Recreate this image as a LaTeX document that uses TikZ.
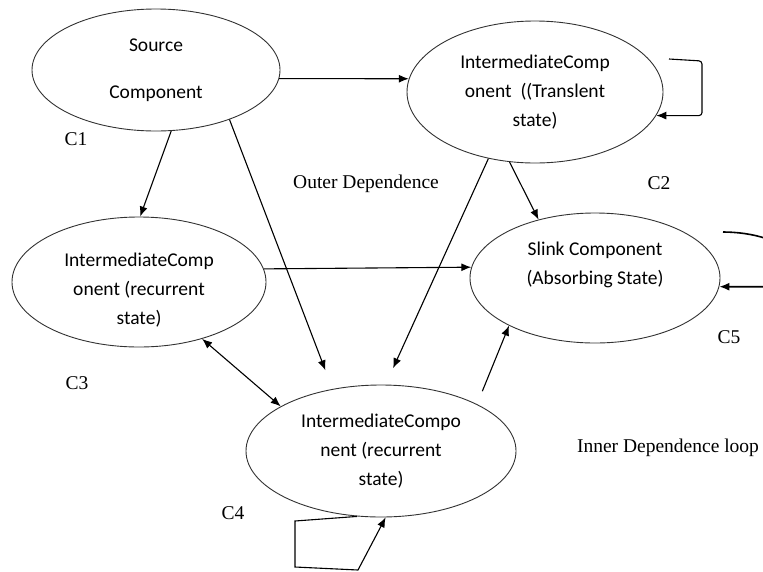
\documentclass[tikz,border=0pt]{standalone}
\usepackage{fontspec}
\setmainfont{Liberation Serif}
\newfontfamily\calibrifont{Carlito}
\usetikzlibrary{shapes.geometric, arrows.meta, positioning}
\definecolor{edgeGray}{RGB}{50, 50, 50}

\begin{document}
\begin{tikzpicture}[
    x=1pt, y=-1pt,
    comp/.style={ellipse, draw=edgeGray, line width=0.9pt, inner sep=0pt, align=center, font=\calibrifont\fontsize{19.5}{29}\selectfont},
    arrow/.style={-{Latex[length=10pt, width=8pt]}, line width=1.1pt, black},
    twoway/.style={{Latex[length=10pt, width=8pt]}-{Latex[length=10pt, width=8pt]}, line width=1.1pt, black},
    lbl/.style={font=\fontsize{19.5}{23}\selectfont, inner sep=0pt}
]
    \useasboundingbox (0,0) rectangle (763,571);

    % Nodes
    \node[comp, minimum width=248pt, minimum height=122pt] (c1) at (156,70) {Source\\[18pt]Component};
    \node[comp, minimum width=256pt, minimum height=142pt] (c2) at (535,92) {IntermediateComp\\onent\ \ ((Translent\\state)};
    \node[comp, minimum width=254pt, minimum height=130pt] (c3) at (139,282) {\mbox{}\\IntermediateComp\\onent (recurrent\\state)};
    \node[comp, minimum width=270pt, minimum height=132pt] (c4) at (381,451) {IntermediateCompo\\nent (recurrent\\state)};
    \node[comp, minimum width=250pt, minimum height=130pt] (c5) at (595,278) {Slink Component\\(Absorbing State)\\\mbox{}};

    % Labels
    \node[lbl] (l1) at (76,139) {C1};
    \node[lbl] (l2) at (659,183) {C2};
    \node[lbl] (l3) at (77,383) {C3};
    \node[lbl] (l4) at (233,513) {C4};
    \node[lbl] (l5) at (729,337) {C5};
    \node[lbl] (outer) at (366,184) {Outer Dependence};
    \node[lbl] (inner) at (668,448) {Inner Dependence loop};

    \coordinate (c2loop) at (669,59);
    \coordinate (c5loop) at (723,232);

    % Connections
    \draw[arrow] (c1.-4.6) -- (c2.174.6);
    \draw[arrow] (c1.-76.6) -- (c3.89);
    \draw[arrow, shorten >=20pt] (c1.-34.9) -- (c4.128);
    \draw[arrow, shorten >=18pt] (c2.-125) -- (c4.86.5);
    \draw[arrow] (c2.-110) -- (c5.134.5);
    \draw[arrow] (c3.6.2) -- (c5.175.4);
    \draw[twoway] (c3.-42.4) -- (c4.156.6);
    \draw[arrow, shorten <=14pt] (c4.26.2) -- (c5.209.2);

    % Self loops
    \draw[arrow, rounded corners=3pt] (c2loop) -- (702,61) |- (c2.-11.3);
    \draw[arrow, line width=1.6pt] (c5loop) .. controls (750,232) and (790,240) .. (790,262) |- (c5.-4.6);
    \draw[arrow] (c4.-110.3) -- (295,521) -- (295,567) -- (358,570) -- (c4.-86.6);
\end{tikzpicture}
\end{document}
